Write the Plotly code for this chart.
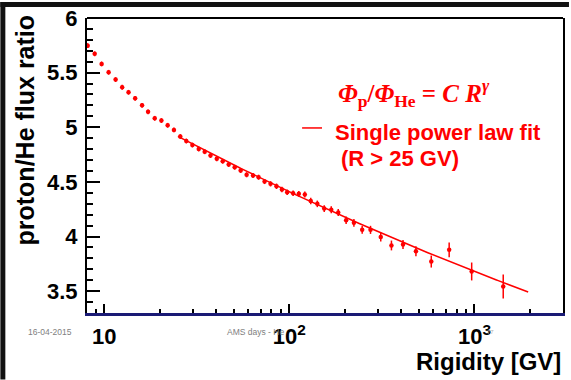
import numpy as np
import plotly.graph_objects as go

# ---------------- data ----------------
rigidity = [8.14, 8.88, 9.68, 10.56, 11.52, 12.50, 13.53, 14.69, 16.01, 17.25,
            18.74, 20.36, 22.01, 23.80, 25.76, 27.75, 29.93, 32.39, 34.89, 37.50,
            40.54, 43.65, 47.02, 50.66, 54.58, 58.77, 63.63, 68.22, 73.47, 79.13,
            85.22, 91.15, 97.32, 104.8, 112.5, 121.2, 130.5, 141.6, 154.3, 168.4,
            183.7, 202.6, 223.2, 247.4, 274.4, 311.7, 356.0, 411.1, 482.8, 584.3,
            730.0, 965.9, 1430.0]
ratio = [5.747, 5.672, 5.580, 5.503, 5.436, 5.366, 5.320, 5.265, 5.201, 5.141,
         5.082, 5.061, 5.018, 4.976, 4.915, 4.874, 4.837, 4.801, 4.776, 4.741,
         4.711, 4.689, 4.659, 4.634, 4.604, 4.565, 4.558, 4.543, 4.503, 4.482,
         4.460, 4.430, 4.405, 4.396, 4.391, 4.384, 4.325, 4.299, 4.256, 4.244,
         4.220, 4.149, 4.125, 4.061, 4.061, 3.995, 3.918, 3.927, 3.866, 3.771,
         3.878, 3.680, 3.543]
ratio_err = [0.022, 0.022, 0.022, 0.022, 0.022, 0.022, 0.022, 0.022, 0.022, 0.022,
             0.022, 0.022, 0.022, 0.022, 0.022, 0.022, 0.022, 0.022, 0.022, 0.022,
             0.022, 0.022, 0.022, 0.022, 0.022, 0.023, 0.023, 0.023, 0.023, 0.024,
             0.025, 0.025, 0.025, 0.026, 0.026, 0.027, 0.030, 0.030, 0.031, 0.032,
             0.032, 0.035, 0.035, 0.036, 0.037, 0.041, 0.045, 0.042, 0.046, 0.055,
             0.068, 0.082, 0.110]

# single power-law fit  Phi_p/Phi_He = C * R^gamma  (R > 25 GV)
FIT_C = 6.33
FIT_GAMMA = -0.0785
FIT_RANGE = [25.0, 1950.0]

x_tickvals = [10, 100, 1000]
x_ticktext = ["10", "10<sup>2</sup>", "10<sup>3</sup>"]
x_minor_vals = [9, 20, 30, 40, 50, 60, 70, 80, 90,
                200, 300, 400, 500, 600, 700, 800, 900, 2000]

# ---------------- layout geometry ----------------
W, H = 571, 380
L, R, T, B = 87, 565, 16, 313
PW, PH = R - L, B - T


def px(x):
    return (x - L) / PW


def py(y):
    return (B - y) / PH


RED = "#ff0000"
SANS = "Liberation Sans"

fit_x = np.logspace(np.log10(FIT_RANGE[0]), np.log10(FIT_RANGE[1]), 200)
fit_y = FIT_C * fit_x ** FIT_GAMMA

fig = go.Figure()
fig.add_trace(go.Scatter(
    x=fit_x, y=fit_y, mode="lines",
    line=dict(color=RED, width=1.5), hoverinfo="skip"))
fig.add_trace(go.Scatter(
    x=rigidity, y=ratio, mode="markers",
    marker=dict(color=RED, size=4.5, line=dict(width=0)),
    error_y=dict(type="data", array=ratio_err, color=RED, thickness=1.5, width=0)))

fig.update_layout(
    width=W, height=H, autosize=False,
    margin=dict(l=L, r=W - R, t=T, b=H - B, pad=0),
    paper_bgcolor="white", plot_bgcolor="white",
    showlegend=False,
    xaxis=dict(
        type="log", range=[0.90694, 3.4782],
        showgrid=False, zeroline=False,
        showline=True, linecolor="#1a1a75", linewidth=3,
        ticks="inside", ticklen=9, tickwidth=1.5, tickcolor="black",
        tickmode="array", tickvals=x_tickvals, ticktext=x_ticktext,
        tickfont=dict(family=SANS, size=22, color="black", weight="bold"),
        ticklabelstandoff=2,
        minor=dict(tickmode="array", tickvals=x_minor_vals, ticks="inside",
                   ticklen=4.5, tickwidth=1.5, tickcolor="black", showgrid=False),
    ),
    yaxis=dict(
        range=[3.3, 6.0],
        showgrid=False, zeroline=False,
        showline=True, linecolor="black", linewidth=2, mirror=True,
        ticks="inside", ticklen=13, tickwidth=1.5, tickcolor="black",
        tick0=3.5, dtick=0.5,
        tickfont=dict(family=SANS, size=22, color="black", weight="bold"),
        ticklabelstandoff=3,
        minor=dict(dtick=0.1, tick0=3.3, ticks="inside", ticklen=6,
                   tickwidth=1.5, tickcolor="black", showgrid=False),
    ),
)

# frame top, black slide strips
fig.add_shape(type="line", xref="paper", yref="paper", x0=0, x1=1, y0=1, y1=1,
              line=dict(color="black", width=2))
fig.add_shape(type="rect", xref="paper", yref="paper",
              x0=px(0), x1=px(W), y0=py(5), y1=py(0),
              fillcolor="#111111", line=dict(width=0), layer="above")
fig.add_shape(type="rect", xref="paper", yref="paper",
              x0=px(0), x1=px(5), y0=py(H), y1=py(0),
              fillcolor="#111111", line=dict(width=0), layer="above")

# legend sample
fig.add_shape(type="line", xref="paper", yref="paper",
              x0=px(303), x1=px(323), y0=py(126.7), y1=py(126.7),
              line=dict(color=RED, width=1.5))

ann = []
ann.append(dict(x=px(25), y=py(129), text="<b>proton/He flux ratio</b>", textangle=-90,
                font=dict(family=SANS, size=25, color="black"),
                xanchor="center", yanchor="middle"))
ann.append(dict(x=px(565), y=py(362), text="<b>Rigidity [GV]</b>",
                font=dict(family=SANS, size=24, color="black"),
                xanchor="right", yanchor="middle"))
ann.append(dict(x=px(337), y=py(92),
                text="<b><i>Φ</i><sub>p</sub>/<i>Φ</i><sub>He</sub> = <i>C R</i><sup><i>γ</i></sup></b>",
                font=dict(family="Liberation Serif", size=25, color=RED),
                xanchor="left", yanchor="middle"))
ann.append(dict(x=px(334), y=py(131.5), text="<b>Single power law fit</b>",
                font=dict(family=SANS, size=22, color=RED),
                xanchor="left", yanchor="middle"))
ann.append(dict(x=px(340), y=py(157.5), text="<b>(R &gt; 25 GV)</b>",
                font=dict(family=SANS, size=22, color=RED),
                xanchor="left", yanchor="middle"))
ann.append(dict(x=px(26), y=py(332), text="16-04-2015",
                font=dict(family=SANS, size=8.5, color="#808080"),
                xanchor="left", yanchor="middle"))
ann.append(dict(x=px(226), y=py(332), text="AMS days - He",
                font=dict(family=SANS, size=8.5, color="#808080"),
                xanchor="left", yanchor="middle"))
ann.append(dict(x=px(487), y=py(332), text="77",
                font=dict(family=SANS, size=6, color="#b0b0b0"),
                xanchor="left", yanchor="middle"))
for a in ann:
    a.update(xref="paper", yref="paper", showarrow=False)
fig.update_layout(annotations=ann)

fig.write_html(
    "out.html",
    config={"displayModeBar": False},
    post_script="document.body.style.margin='0';document.body.style.padding='0';"
                "document.documentElement.style.overflow='hidden';",
)
